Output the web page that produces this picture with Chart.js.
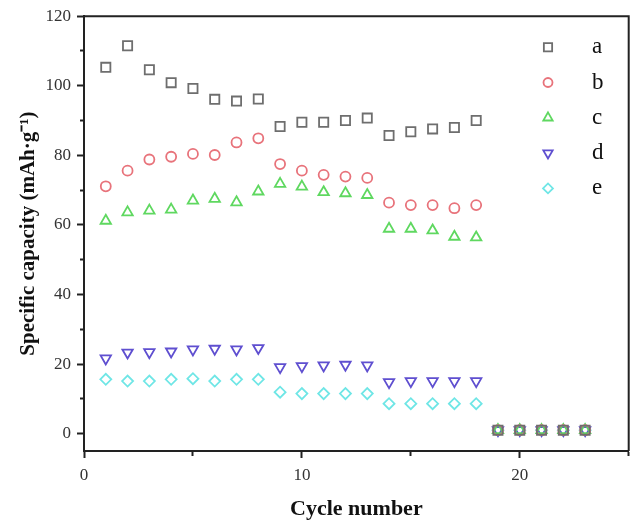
<!DOCTYPE html>
<html>
<head>
<meta charset="utf-8">
<script src="https://cdn.jsdelivr.net/npm/chart.js@4/dist/chart.umd.min.js"></script>
<style>
  html, body { margin: 0; padding: 0; background: #fff; }
  #wrap { width: 637px; height: 524px; }
</style>
</head>
<body>
<div id="wrap"><canvas id="chart" width="637" height="524"></canvas></div>
<script>
'use strict';

// cycle number on the x axis
const cycles = [1, 2, 3, 4, 5, 6, 7, 8, 9, 10, 11, 12, 13, 14, 15, 16, 17, 18, 19, 20, 21, 22, 23];

// specific capacity (mAh/g)
const capA = [105.3, 111.5, 104.6, 100.9, 99.2, 96.1, 95.6, 96.2, 88.3, 89.5, 89.5, 90.0, 90.7, 85.7, 86.8, 87.6, 88.0, 90.0, 1.0, 1.0, 1.0, 1.0, 1.0];
const capB = [71.1, 75.6, 78.8, 79.6, 80.4, 80.1, 83.7, 84.9, 77.5, 75.6, 74.4, 73.9, 73.5, 66.4, 65.7, 65.7, 64.8, 65.7, 1.0, 1.0, 1.0, 1.0, 1.0];
const capC = [61.2, 63.6, 64.1, 64.4, 67.0, 67.5, 66.5, 69.6, 71.8, 71.0, 69.4, 69.1, 68.6, 58.9, 58.9, 58.4, 56.6, 56.4, 1.0, 1.0, 1.0, 1.0, 1.0];
const capD = [21.6, 23.3, 23.4, 23.6, 24.2, 24.4, 24.2, 24.6, 19.1, 19.4, 19.6, 19.8, 19.6, 14.8, 15.1, 15.1, 15.1, 15.1, 1.0, 1.0, 1.0, 1.0, 1.0];
const capE = [15.6, 15.1, 15.1, 15.6, 15.8, 15.1, 15.6, 15.6, 11.9, 11.5, 11.5, 11.5, 11.5, 8.6, 8.6, 8.6, 8.6, 8.6, 1.0, 1.0, 1.0, 1.0, 1.0];

const seriesNames = ['a', 'b', 'c', 'd', 'e'];

// axis ticks
const xTicks = [0, 5, 10, 15, 20, 25];
const xLabelled = [0, 10, 20];
const yTicks = [0, 10, 20, 30, 40, 50, 60, 70, 80, 90, 100, 110, 120];
const yLabelled = [0, 20, 40, 60, 80, 100, 120];

const SERIF = "'Liberation Serif', 'Times New Roman', serif";
const AXIS = '#222';

function toPoints(values) {
  return values.map((v, i) => ({ x: cycles[i], y: v }));
}

function makeSet(label, values, color, style, radius, rotation) {
  return {
    label,
    data: toPoints(values),
    showLine: false,
    pointStyle: style,
    pointRadius: radius,
    pointHoverRadius: radius,
    pointRotation: rotation || 0,
    pointBorderWidth: 1.8,
    borderColor: color,
    backgroundColor: 'rgba(0,0,0,0)'
  };
}

const datasets = [
  makeSet(seriesNames[0], capA, '#6e6e6e', 'rect', 6.5),
  makeSet(seriesNames[1], capB, '#e8737b', 'circle', 5),
  makeSet(seriesNames[2], capC, '#5fd860', 'triangle', 6),
  makeSet(seriesNames[3], capD, '#5f4fd0', 'triangle', 6, 180),
  makeSet(seriesNames[4], capE, '#6fe6e6', 'rectRot', 5.5)
];

// top/right frame and the in-plot key
const frameAndKey = {
  id: 'frameAndKey',
  afterDatasetsDraw(chart) {
    const { ctx, chartArea } = chart;
    ctx.save();
    ctx.strokeStyle = AXIS;
    ctx.lineWidth = 2;
    ctx.beginPath();
    ctx.moveTo(chartArea.left, chartArea.top);
    ctx.lineTo(chartArea.right, chartArea.top);
    ctx.lineTo(chartArea.right, chartArea.bottom);
    ctx.stroke();

    const markerX = chartArea.left + 464;
    const textX = chartArea.left + 508;
    let rowY = chartArea.top + 31;

    chart.data.datasets.forEach((ds) => {
      ctx.strokeStyle = ds.borderColor;
      ctx.fillStyle = 'rgba(0,0,0,0)';
      ctx.lineWidth = ds.pointBorderWidth;
      Chart.helpers.drawPoint(ctx, {
        pointStyle: ds.pointStyle,
        rotation: ds.pointRotation,
        radius: ds.pointRadius * 0.9,
        borderWidth: ds.pointBorderWidth
      }, markerX, rowY);

      ctx.fillStyle = '#111';
      ctx.font = `23px ${SERIF}`;
      ctx.textAlign = 'left';
      ctx.textBaseline = 'middle';
      ctx.fillText(ds.label, textX, rowY);
      rowY += 35.3;
    });
    ctx.restore();
  }
};

new Chart(document.getElementById('chart'), {
  type: 'scatter',
  data: { datasets },
  plugins: [frameAndKey],
  options: {
    responsive: false,
    animation: false,
    layout: { padding: { left: 0, top: 14, right: 7, bottom: 0 } },
    plugins: {
      legend: { display: false },
      tooltip: { enabled: false }
    },
    scales: {
      x: {
        type: 'linear',
        min: 0,
        max: 25,
        afterBuildTicks(scale) {
          scale.ticks = xTicks.map((value) => ({ value }));
        },
        afterFit(scale) {
          scale.height = 73;
        },
        border: { color: AXIS, width: 2 },
        grid: {
          drawOnChartArea: false,
          tickLength: 7,
          tickWidth: 2,
          tickColor: AXIS,
          tickBorderDash: (ctx) => (xLabelled.includes(ctx.tick && ctx.tick.value) ? [] : [4, 20])
        },
        ticks: {
          color: '#333',
          padding: 7,
          maxRotation: 0,
          font: { family: SERIF, size: 17 },
          callback: (value) => (xLabelled.includes(value) ? String(value) : '')
        },
        title: {
          display: true,
          text: 'Cycle number',
          color: '#111',
          font: { family: SERIF, size: 22, weight: 'bold' },
          padding: { top: 0, bottom: 1 }
        }
      },
      y: {
        min: -5,
        max: 120,
        afterBuildTicks(scale) {
          scale.ticks = yTicks.map((value) => ({ value }));
        },
        afterFit(scale) {
          scale.width = 84;
        },
        border: { color: AXIS, width: 2 },
        grid: {
          drawOnChartArea: false,
          tickLength: 7,
          tickWidth: 2,
          tickColor: AXIS,
          tickBorderDash: (ctx) => (yLabelled.includes(ctx.tick && ctx.tick.value) ? [] : [0, 3, 20, 0])
        },
        ticks: {
          color: '#333',
          padding: 6,
          font: { family: SERIF, size: 17 },
          callback: (value) => (yLabelled.includes(value) ? String(value) : '')
        },
        title: {
          display: true,
          text: 'Specific capacity (mAh\u00b7g\u207b\u00b9)',
          color: '#111',
          font: { family: SERIF, size: 21, weight: 'bold' },
          padding: { top: 16, bottom: 0 }
        }
      }
    }
  }
});
</script>
</body>
</html>
